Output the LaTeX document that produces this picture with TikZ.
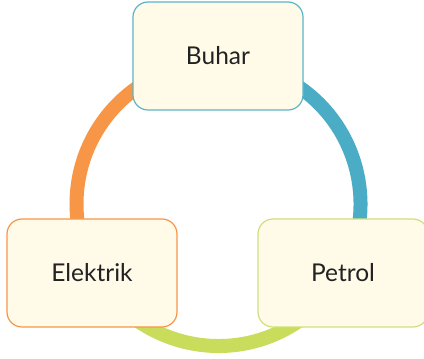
\documentclass[tikz,border=0pt]{standalone}
\usepackage{fontspec}
\setmainfont{Lato}
\usepackage{tikz}
\usetikzlibrary{backgrounds}

\definecolor{cream}{HTML}{FFFBE8}
\definecolor{ringorange}{HTML}{F79646}
\definecolor{ringteal}{HTML}{4BACC6}
\definecolor{ringgreen}{HTML}{C9DC5B}
\definecolor{boxteal}{HTML}{5BB5C8}
\definecolor{boxgreen}{HTML}{CFE07A}
\definecolor{textgray}{HTML}{222222}

\begin{document}
\begin{tikzpicture}[x=1pt, y=1pt]
	\tikzstyle{box} = [draw, fill=cream, line width=1.2pt, rounded corners=15pt, minimum width=170pt, minimum height=108pt, text=textgray, font=\fontsize{24.5}{28}\selectfont]
	\tikzstyle{ring} = [line width=14pt]
	\useasboundingbox (0,0) rectangle (424,359);
	\coordinate (O) at (218.5,155);
	\begin{scope}
	  \node[box, draw=boxteal] (buhar) at (218,303) {Buhar};
	  \node[box, draw=ringorange] (elektrik) at (92,86) {Elektrik};
	  \node[box, draw=boxgreen] (petrol) at (343,86) {Petrol};
	\end{scope}
	\begin{scope}[on background layer]
	  \draw[ring, ringorange] (O) ++(90:142) arc[start angle=90, end angle=210, radius=142];
	  \draw[ring, ringgreen] (O) ++(210:142) arc[start angle=210, end angle=330, radius=142];
	  \draw[ring, ringteal] (O) ++(330:142) arc[start angle=330, end angle=450, radius=142];
	\end{scope}
\end{tikzpicture}
\end{document}
